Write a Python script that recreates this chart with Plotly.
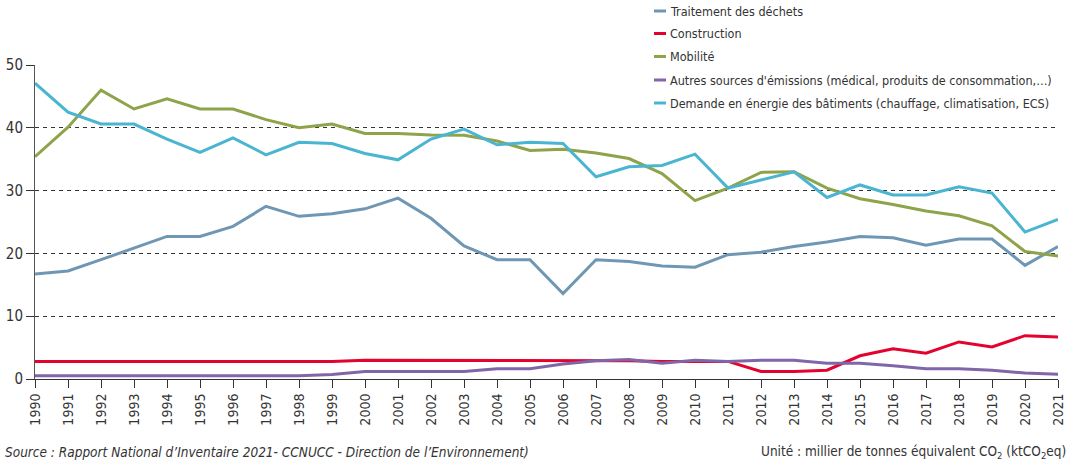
import plotly.graph_objects as go

years = list(range(1990, 2022))

traitement = [16.7, 17.2, 19.0, 20.9, 22.7, 22.7, 24.3, 27.5, 25.9, 26.3, 27.1, 28.8,
              25.6, 21.2, 19.0, 19.0, 13.6, 19.0, 18.7, 18.0, 17.8, 19.8, 20.2, 21.1,
              21.8, 22.7, 22.5, 21.3, 22.3, 22.3, 18.1, 21.1]
construction = [2.8, 2.8, 2.8, 2.8, 2.8, 2.8, 2.8, 2.8, 2.8, 2.8, 3.0, 3.0,
                3.0, 3.0, 3.0, 3.0, 3.0, 2.9, 2.9, 2.8, 2.8, 2.8, 1.2, 1.2,
                1.4, 3.7, 4.8, 4.1, 5.9, 5.1, 6.9, 6.7]
mobilite = [35.4, 40.1, 46.0, 43.0, 44.6, 43.0, 43.0, 41.3, 40.0, 40.6, 39.1, 39.1,
            38.85, 38.8, 37.9, 36.4, 36.6, 36.0, 35.1, 32.7, 28.4, 30.4, 32.9, 33.0,
            30.4, 28.7, 27.8, 26.75, 26.0, 24.4, 20.3, 19.6]
autres = [0.5, 0.5, 0.5, 0.5, 0.5, 0.5, 0.5, 0.5, 0.5, 0.7, 1.2, 1.2,
          1.2, 1.2, 1.65, 1.65, 2.4, 2.9, 3.1, 2.5, 3.0, 2.8, 3.0, 3.0,
          2.5, 2.5, 2.1, 1.65, 1.65, 1.4, 0.95, 0.75]
demande = [47.1, 42.5, 40.6, 40.6, 38.2, 36.1, 38.4, 35.7, 37.7, 37.5, 35.9, 34.9,
           38.2, 39.8, 37.3, 37.7, 37.5, 32.2, 33.8, 34.0, 35.8, 30.4, 31.7, 33.0,
           28.9, 30.9, 29.3, 29.3, 30.6, 29.6, 23.4, 25.4]

series_names = ["Traitement des déchets", "Construction", "Mobilité",
                "Autres sources d'émissions (médical, produits de consommation,…)",
                "Demande en énergie des bâtiments (chauffage, climatisation, ECS)"]
series_values = [traitement, construction, mobilite, autres, demande]
series_colors = ["#6f97b4", "#e4032e", "#8ea34a", "#8066a8", "#4ab5d0"]

y_ticks = [0, 10, 20, 30, 40, 50]

FONT = "Liberation Sans Narrow, DejaVu Sans Condensed, Roboto Condensed, Liberation Sans, sans-serif"

W, H = 1073, 468
PLOT_L, PLOT_R, PLOT_T, PLOT_B = 35, 1058, 65, 379   # plot area in pixels
L, T, R, B = PLOT_L, PLOT_T, W - PLOT_R, H - PLOT_B
PW, PH = PLOT_R - PLOT_L, PLOT_B - PLOT_T


def px(xp):
    return (xp - PLOT_L) / PW


def py(yp):
    return (PLOT_B - yp) / PH


fig = go.Figure()
for name, vals, col in zip(series_names, series_values, series_colors):
    fig.add_trace(go.Scatter(x=years, y=vals, name=name, mode="lines",
                             line=dict(color=col, width=3), showlegend=False))

fig.update_layout(
    width=W, height=H,
    margin=dict(l=L, r=R, t=T, b=B, autoexpand=False),
    paper_bgcolor="white", plot_bgcolor="white",
    font=dict(family=FONT, size=14, color="#333333"),
    showlegend=False,
    xaxis=dict(range=[1990, 2021], tickmode="array", tickvals=years,
               ticktext=[str(y) for y in years], tickangle=-90,
               showgrid=False, zeroline=False, showline=True, linecolor="#333333",
               linewidth=1, ticks="outside", ticklen=8, tickcolor="#333333",
               tickfont=dict(size=14, color="#333333")),
    yaxis=dict(range=[0, 50], tickmode="array", tickvals=y_ticks,
               showgrid=True, gridcolor="#333333", gridwidth=1, griddash="4px,4px",
               zeroline=False, showline=True, linecolor="#555555", linewidth=1,
               ticks="outside", ticklen=8, tickcolor="#333333",
               tickfont=dict(size=15, color="#333333")),
)

# white box behind the legend (covers the top gridline as in the reference)
fig.add_shape(type="rect", xref="paper", yref="paper",
              x0=px(640), x1=px(1080), y0=py(115), y1=py(0),
              fillcolor="white", line=dict(width=0), layer="above")

legend_rows = [11, 33.5, 56.5, 80, 103]
for name, col, ry in zip(series_names, series_colors, legend_rows):
    fig.add_shape(type="line", xref="paper", yref="paper",
                  x0=px(654), x1=px(666), y0=py(ry), y1=py(ry),
                  line=dict(color=col, width=3), layer="above")
    fig.add_annotation(xref="paper", yref="paper", x=px(668), y=py(ry),
                       xanchor="left", yanchor="middle", showarrow=False,
                       text=name, font=dict(size=12.5, color="#333333"))

fig.add_annotation(xref="paper", yref="paper", x=px(3), y=py(452),
                   xanchor="left", yanchor="middle", showarrow=False,
                   text="<i>Source : Rapport National d’Inventaire 2021- CCNUCC - Direction de l’Environnement)</i>",
                   font=dict(size=13.5, color="#333333"))
fig.add_annotation(xref="paper", yref="paper", x=px(1068), y=py(452),
                   xanchor="right", yanchor="middle", showarrow=False,
                   text="Unité : millier de tonnes équivalent CO<sub>2</sub> (ktCO<sub>2</sub>eq)",
                   font=dict(size=13.5, color="#333333"))

fig.write_html("out.html", config={"displayModeBar": False, "staticPlot": True},
               post_script="document.body.style.margin='0px';")
